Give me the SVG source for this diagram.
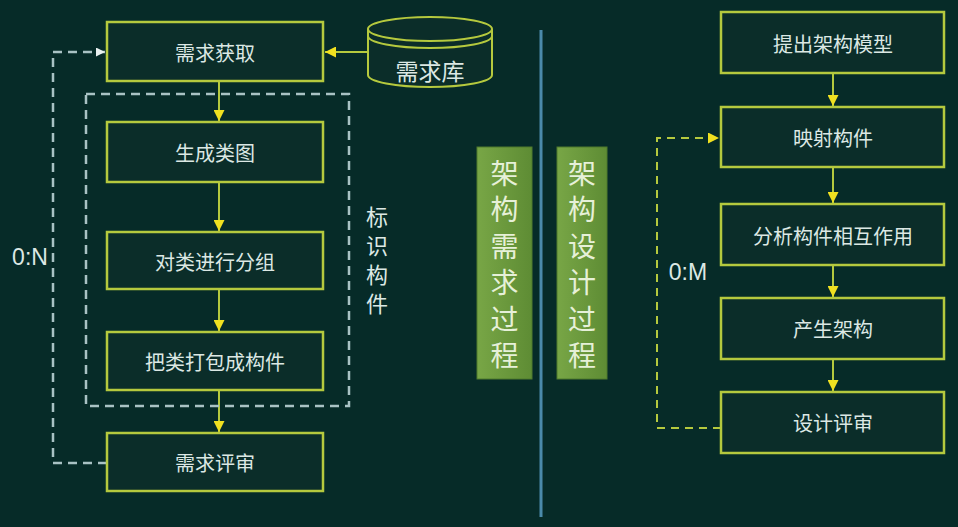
<svg xmlns="http://www.w3.org/2000/svg" width="958" height="527" viewBox="0 0 958 527">
<defs>
<style>
.box{fill:#0b2d29;stroke:#b5c93e;stroke-width:2.5}
.t{font-family:"Noto Sans CJK SC","Noto Sans",sans-serif;font-size:20px;fill:#dce8e4;text-anchor:middle;dominant-baseline:central}
.lbl{font-family:"Liberation Sans","Noto Sans",sans-serif;font-size:23px;fill:#dce8e4;text-anchor:middle;dominant-baseline:central}
.vt{font-family:"Noto Sans CJK SC",sans-serif;font-size:28px;fill:#e6f0d8;writing-mode:vertical-rl;letter-spacing:8.5px;text-anchor:start}
.side{font-family:"Noto Sans CJK SC",sans-serif;font-size:22px;fill:#dce8e4;writing-mode:vertical-rl;letter-spacing:7px;text-anchor:start}
.arr{stroke:#b5c93e;stroke-width:2;fill:none}
.dash{stroke:#a9c2c4;stroke-width:2.5;fill:none;stroke-dasharray:9,6}
.dashy{stroke:#b5c93e;stroke-width:2;fill:none;stroke-dasharray:8,6}
</style>
<marker id="ahw" viewBox="0 0 10 10" refX="10" refY="5" markerWidth="9" markerHeight="9" orient="auto" markerUnits="userSpaceOnUse">
<path d="M0,0 L10,5 L0,10 Z" fill="#e8f0f0"/>
</marker>
<marker id="ahy" viewBox="0 0 10 10" refX="10" refY="5" markerWidth="11" markerHeight="11" orient="auto" markerUnits="userSpaceOnUse">
<path d="M0,0 L10,5 L0,10 Z" fill="#f0e020"/>
</marker>
<linearGradient id="gg" x1="0" y1="0" x2="1" y2="0">
<stop offset="0" stop-color="#78a646"/>
<stop offset="1" stop-color="#5e8c34"/>
</linearGradient>
</defs>
<rect width="958" height="527" fill="#062b28"/>
<line x1="541" y1="30" x2="541" y2="517" stroke="#4a8aaa" stroke-width="3"/>

<g id="connectors">
<line class="arr" x1="368" y1="52" x2="325" y2="52" marker-end="url(#ahy)"/>
<line class="arr" x1="219" y1="81" x2="219" y2="121" marker-end="url(#ahy)"/>
<line class="arr" x1="219" y1="182" x2="219" y2="231" marker-end="url(#ahy)"/>
<line class="arr" x1="219" y1="289" x2="219" y2="331" marker-end="url(#ahy)"/>
<line class="arr" x1="219" y1="390" x2="219" y2="432" marker-end="url(#ahy)"/>
<path class="dash" d="M107,463 H53 V52 H105" marker-end="url(#ahw)"/>
<line class="arr" x1="833" y1="73" x2="833" y2="106" marker-end="url(#ahy)"/>
<line class="arr" x1="833" y1="167" x2="833" y2="203" marker-end="url(#ahy)"/>
<line class="arr" x1="833" y1="265" x2="833" y2="297" marker-end="url(#ahy)"/>
<line class="arr" x1="833" y1="359" x2="833" y2="391" marker-end="url(#ahy)"/>
<path class="dashy" d="M721,428 H657 V138 H719" marker-end="url(#ahy)"/>
</g>

<g id="group-identify">
<rect x="86" y="94" width="263" height="312" class="dash"/>
<text class="side" x="377" y="206">标识构件</text>
</g>

<g id="n-req-get"><rect class="box" x="107" y="22" width="216" height="59"/><text class="t" x="215" y="52">需求获取</text></g>
<g id="n-classdiag"><rect class="box" x="107" y="122" width="216" height="60"/><text class="t" x="215" y="152">生成类图</text></g>
<g id="n-group"><rect class="box" x="107" y="232" width="216" height="57"/><text class="t" x="215" y="261">对类进行分组</text></g>
<g id="n-pack"><rect class="box" x="107" y="332" width="216" height="58"/><text class="t" x="215" y="361">把类打包成构件</text></g>
<g id="n-req-review"><rect class="box" x="107" y="433" width="216" height="58"/><text class="t" x="215" y="462">需求评审</text></g>

<g id="n-reqdb">
<path d="M368,29 V75 A62,12 0 0 0 492,75 V29" fill="#0b2d29" stroke="#b5c93e" stroke-width="2"/>
<ellipse cx="430" cy="29" rx="62" ry="12" fill="#0b2d29" stroke="#b5c93e" stroke-width="2"/>
<path d="M368,36 A62,12 0 0 0 492,36" fill="none" stroke="#b5c93e" stroke-width="2"/>
<text class="t" x="430" y="70" style="font-size:23px">需求库</text>
</g>

<text class="lbl" x="30" y="257">0:N</text>
<text class="lbl" x="688" y="272">0:M</text>

<g id="n-title-req">
<rect x="477" y="147" width="55" height="232" fill="url(#gg)" stroke="#4e7a2c" stroke-width="1"/>
<text class="vt" x="504.5" y="159">架构需求过程</text>
</g>
<g id="n-title-design">
<rect x="557" y="147" width="50" height="232" fill="url(#gg)" stroke="#4e7a2c" stroke-width="1"/>
<text class="vt" x="582" y="159">架构设计过程</text>
</g>

<g id="n-model"><rect class="box" x="721" y="12" width="223" height="61"/><text class="t" x="833" y="43">提出架构模型</text></g>
<g id="n-map"><rect class="box" x="721" y="107" width="223" height="60"/><text class="t" x="833" y="137">映射构件</text></g>
<g id="n-analyze"><rect class="box" x="721" y="204" width="223" height="61"/><text class="t" x="833" y="235">分析构件相互作用</text></g>
<g id="n-produce"><rect class="box" x="721" y="298" width="223" height="61"/><text class="t" x="833" y="328">产生架构</text></g>
<g id="n-design-review"><rect class="box" x="721" y="392" width="223" height="61"/><text class="t" x="833" y="422">设计评审</text></g>
</svg>
